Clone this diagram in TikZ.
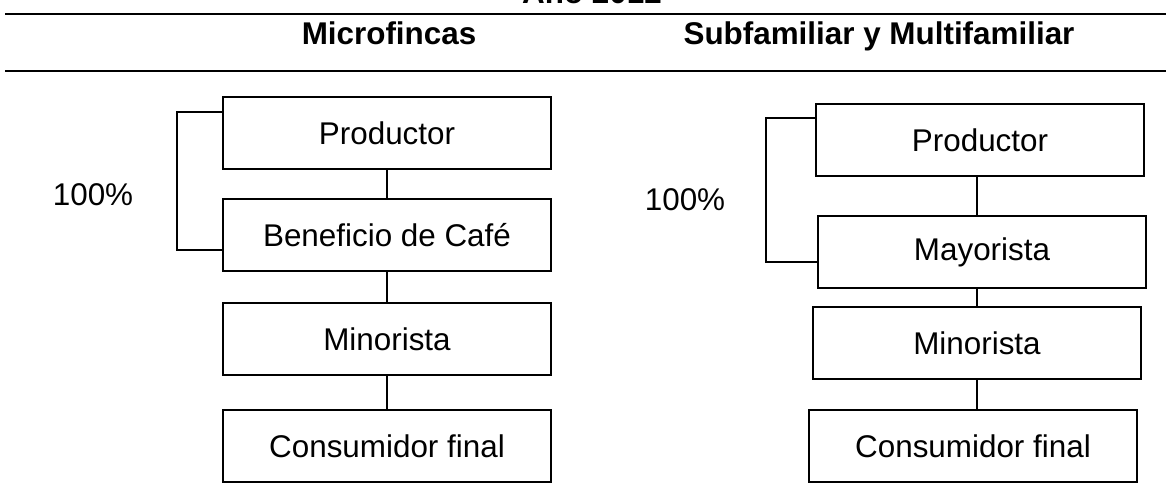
\documentclass[tikz,border=0pt]{standalone}
\usepackage{fontspec}
\setmainfont{Liberation Sans}
\usetikzlibrary{positioning}
\tikzset{eslabon/.style = {draw, line width=1pt, minimum width=164pt, minimum height=36pt,
                           inner sep=0pt, font=\fontsize{15.7}{18}\selectfont},
         encabezado/.style = {anchor=base, inner sep=0pt, font=\fontsize{15.7}{18}\selectfont\bfseries},
         porcentaje/.style = {inner sep=0pt, font=\fontsize{15.7}{18}\selectfont},
         enlace/.style = {line width=0.8pt},
         regla/.style = {line width=1pt}}

\begin{document}
\begin{tikzpicture}[x=0.5pt, y=-0.5pt]
      \useasboundingbox (0, 0) rectangle (1166, 486);

      \node [encabezado] (anio) at (592, 4) {Año 2012};
      \coordinate (reglaA1) at (5, 14);
      \coordinate (reglaA2) at (1166, 14);
      \coordinate (reglaB1) at (5, 71);
      \coordinate (reglaB2) at (1166, 71);
      \draw [regla] (reglaA1) -- (reglaA2);
      \draw [regla] (reglaB1) -- (reglaB2);
      \node [encabezado] (micro) at (389, 45) {Microfincas};
      \node [encabezado] (multi) at (879, 45) {Subfamiliar y Multifamiliar};

      % microfincas
      \node [eslabon] (prodL) at (387, 133) {Productor};
      \node [eslabon] (benL) at (387, 235) {Beneficio de Café};
      \node [eslabon] (minL) at (387, 339) {Minorista};
      \node [eslabon] (consL) at (387, 446) {Consumidor final};
      \draw [enlace] (prodL) -- (benL);
      \draw [enlace] (benL) -- (minL);
      \draw [enlace] (minL) -- (consL);

      \coordinate (brL1) at (177, 112);
      \coordinate (brL2) at (177, 250);
      \draw [enlace] (prodL.west |- brL1) -- (brL1) -- (brL2) -- (benL.west |- brL2);
      \node [porcentaje] (pctL) at (93, 195) {100\%};

      % subfamiliar y multifamiliar
      \node [eslabon] (prodR) at (980, 140) {Productor};
      \node [eslabon] (mayR) at (982, 252) {Mayorista};
      \node [eslabon] (minR) at (977, 343) {Minorista};
      \node [eslabon] (consR) at (973, 446) {Consumidor final};
      \draw [enlace] (prodR.south -| minR) -- (mayR.north -| minR);
      \draw [enlace] (mayR.south -| minR) -- (minR);
      \draw [enlace] (minR) -- (consR.north -| minR);

      \coordinate (brR1) at (766, 118);
      \coordinate (brR2) at (766, 262);
      \draw [enlace] (prodR.west |- brR1) -- (brR1) -- (brR2) -- (mayR.west |- brR2);
      \node [porcentaje] (pctR) at (685, 200) {100\%};
    \end{tikzpicture}
\end{document}
